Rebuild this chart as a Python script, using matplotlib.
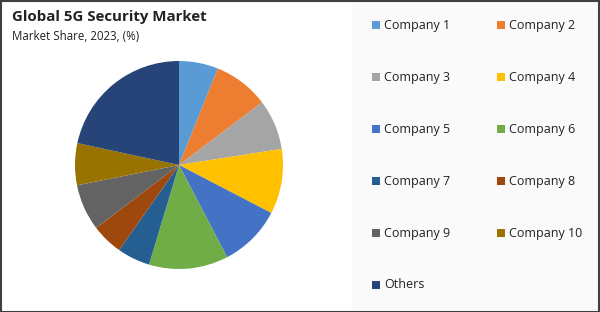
import matplotlib
matplotlib.use("Agg")
import matplotlib.pyplot as plt
from matplotlib.patches import Rectangle

labels = ["Company 1", "Company 2", "Company 3", "Company 4", "Company 5",
          "Company 6", "Company 7", "Company 8", "Company 9", "Company 10", "Others"]
shares = [6.1, 8.6, 7.8, 10.1, 9.7, 12.3, 5.1, 4.9, 7.2, 6.5, 21.6]
colors = ["#5B9BD5", "#ED7D31", "#A5A5A5", "#FFC000", "#4472C4", "#70AD47",
          "#255E91", "#9E480E", "#636363", "#997300", "#264478"]
title = "Global 5G Security Market"
subtitle = "Market Share, 2023, (%)"

W, H = 600, 312
fig = plt.figure(figsize=(6, 3.12), dpi=100)
fig.patch.set_facecolor("white")
plt.rcParams['font.family'] = ['Open Sans', 'DejaVu Sans']

# legend panel background
fig.patches.append(Rectangle((352 / W, 2 / H), 246 / W, 308 / H, transform=fig.transFigure,
                             facecolor="#FAFAFA", edgecolor="none", zorder=0))
# outer border
fig.patches.append(Rectangle((0.5 / W, 0.5 / H), (W - 1.5) / W, (H - 1.5) / H, transform=fig.transFigure,
                             facecolor="none", edgecolor="#404040", linewidth=1.5, zorder=10))

cx, cy, r = 179, 165, 104
ax = fig.add_axes([(cx - r) / W, (H - cy - r) / H, 2 * r / W, 2 * r / H])
ax.pie(shares, colors=colors, startangle=90, counterclock=False, radius=1,
       wedgeprops=dict(linewidth=0))
ax.set_xlim(-1, 1)
ax.set_ylim(-1, 1)
ax.set_aspect("equal")
ax.axis("off")

fig.text(12 / W, 1 - 17 / H, title, fontsize=10.8, fontweight="bold", color="#222222",
         va="center", ha="left")
fig.text(12 / W, 1 - 37 / H, subtitle, fontsize=8.3, color="#222222", va="center", ha="left")

col_x = [372, 497]
row_y = [25, 77, 129, 181, 233, 285]
for i, (lab, col) in enumerate(zip(labels, colors)):
    x = col_x[i % 2]
    y = row_y[i // 2]
    fig.patches.append(Rectangle((x / W, (H - y - 4) / H), 8 / W, 8 / H, transform=fig.transFigure,
                                 facecolor=col, edgecolor="none", zorder=5))
    fig.text((x + 12) / W, 1 - y / H, lab, fontsize=9, color="#222222", va="center", ha="left")

fig.savefig("out.png", dpi=100)
